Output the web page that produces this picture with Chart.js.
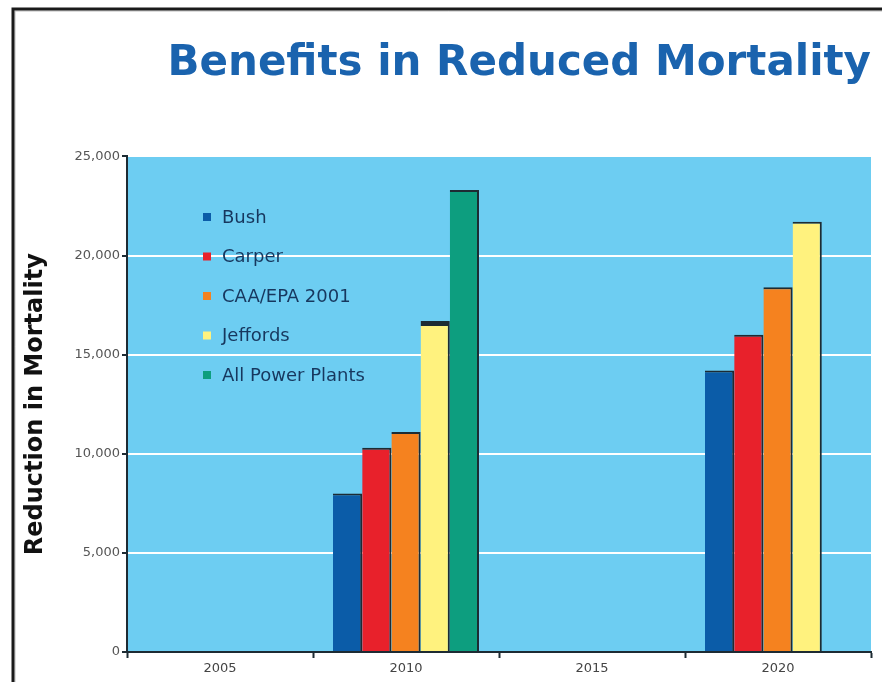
<!DOCTYPE html>
<html>
<head>
<meta charset="utf-8">
<script src="https://cdn.jsdelivr.net/npm/chart.js@4"></script>
<style>
  html, body { margin: 0; padding: 0; background: #fff; }
  #wrap { width: 882px; height: 682px; }
</style>
</head>
<body>
<div id="wrap"><canvas id="mortality-bars"></canvas></div>
<script>
var years = ["2005", "2010", "2015", "2020"];
var bush = [null, 8000, null, 14200];
var carper = [null, 10300, null, 16000];
var caaEpa = [null, 11100, null, 18400];
var jeffords = [null, 16700, null, 21700];
var allPlants = [null, 23300, null, null];

var plotBg = '#6dcdf2';
var edge = '#1d2b33';
var wide = '"DejaVu Sans", Verdana, sans-serif';

function barBorder(c) {
  // the 2010 Jeffords bar has a heavy black cap
  var top = (c.datasetIndex === 3 && c.dataIndex === 1) ? 5 : 2;
  return { top: top, right: 2, left: 0, bottom: 0 };
}

// light blue plot area + black frame round the slide
var backdrop = {
  id: 'backdrop',
  beforeDraw: function (chart) {
    var a = chart.chartArea, c = chart.ctx;
    c.save();
    c.fillStyle = plotBg;
    c.fillRect(a.left, a.top, a.right - a.left, a.bottom - a.top);
    c.restore();
  },
  afterDraw: function (chart) {
    var c = chart.ctx;
    c.save();
    c.strokeStyle = '#bbb';
    c.lineWidth = 1;
    c.beginPath();
    c.moveTo(15, 682); c.lineTo(15, 11); c.lineTo(882, 11);
    c.stroke();
    c.strokeStyle = '#1a1a1a';
    c.lineWidth = 3;
    c.beginPath();
    c.moveTo(13, 682); c.lineTo(13, 9); c.lineTo(882, 9);
    c.stroke();
    c.restore();
  }
};

// legend sits inside the plot, upper left
var innerLegend = {
  id: 'innerLegend',
  afterDatasetsDraw: function (chart) {
    var c = chart.ctx;
    c.save();
    c.font = '18px ' + wide;
    c.textBaseline = 'middle';
    chart.data.datasets.forEach(function (ds, i) {
      var y = 217 + i * 39.5;
      c.fillStyle = ds.backgroundColor;
      c.fillRect(203, y - 4, 8, 8);
      c.fillStyle = '#17375e';
      c.fillText(ds.label, 222, y + 1);
    });
    c.restore();
  }
};

function mk(label, data, color) {
  return {
    label: label,
    data: data,
    backgroundColor: color,
    borderColor: edge,
    borderWidth: barBorder,
    borderSkipped: false,
    categoryPercentage: 0.785,
    barPercentage: 1.0
  };
}

new Chart(document.getElementById('mortality-bars'), {
  type: 'bar',
  data: {
    labels: years,
    datasets: [
      mk('Bush', bush, '#0b5ca8'),
      mk('Carper', carper, '#e8212b'),
      mk('CAA/EPA 2001', caaEpa, '#f5821f'),
      mk('Jeffords', jeffords, '#fff27e'),
      mk('All Power Plants', allPlants, '#0d9e7f')
    ]
  },
  options: {
    responsive: true,
    maintainAspectRatio: false,
    animation: false,
    layout: { padding: { left: 14, right: 11, top: 0, bottom: 0 } },
    plugins: {
      legend: { display: false },
      tooltip: { enabled: false },
      title: {
        display: true,
        text: 'Benefits in Reduced Mortality',
        align: 'end',
        color: '#1a63ae',
        font: { size: 42, weight: 'bold', family: wide },
        padding: { top: 39, bottom: 67 }
      }
    },
    scales: {
      y: {
        min: 0,
        max: 25000,
        afterFit: function (s) { s.width = 113; },
        ticks: {
          stepSize: 5000,
          color: '#555',
          padding: 2,
          font: { size: 13, family: wide }
        },
        grid: {
          color: '#ffffff',
          lineWidth: 2,
          tickColor: edge,
          tickLength: 5,
          tickWidth: 2
        },
        border: { display: true, color: edge, width: 2 },
        title: {
          display: true,
          text: 'Reduction in Mortality',
          color: '#111',
          font: { size: 24, weight: 'bold', family: wide },
          padding: { top: 7, bottom: 0 }
        }
      },
      x: {
        afterFit: function (s) { s.height = 30; },
        ticks: {
          color: '#444',
          padding: 3,
          font: { size: 13, family: wide }
        },
        grid: {
          drawOnChartArea: false,
          offset: true,
          tickColor: edge,
          tickLength: 6,
          tickWidth: 2
        },
        border: { display: true, color: edge, width: 2 }
      }
    }
  },
  plugins: [backdrop, innerLegend]
});
</script>
</body>
</html>
